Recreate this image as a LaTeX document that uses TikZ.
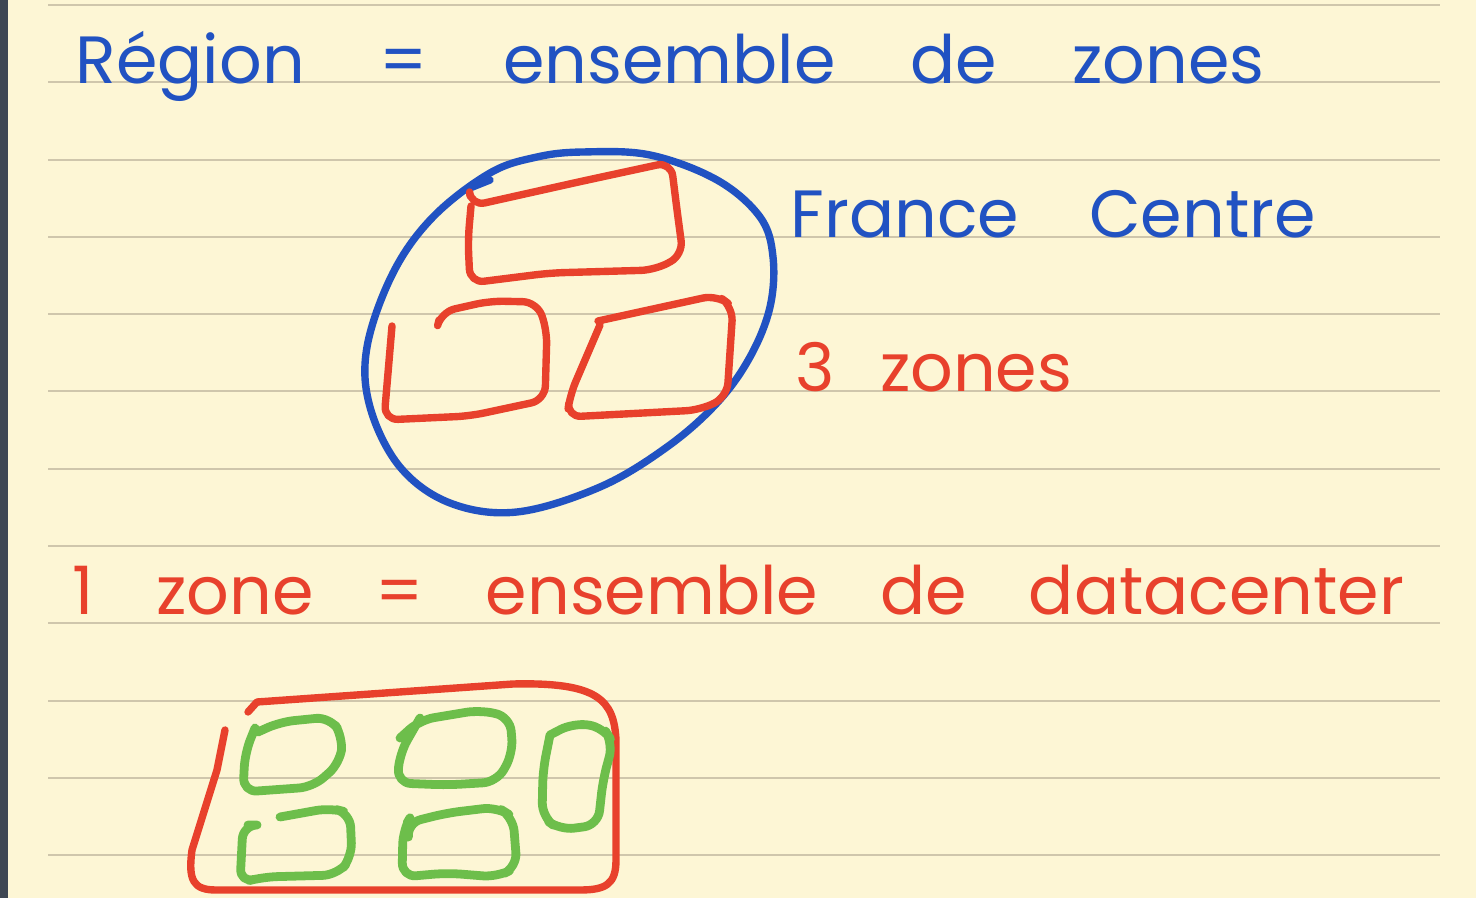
\documentclass[tikz,border=0pt]{standalone}
\usepackage{fontspec}
\newfontfamily\hand{Poppins}
\newcommand\wordgap[1]{\spaceskip=#1\relax}
\definecolor{paper}{HTML}{FDF6D5}
\definecolor{ruling}{HTML}{CFC6AC}
\definecolor{spine}{HTML}{3E4753}
\definecolor{blueink}{HTML}{2152C2}
\definecolor{redink}{HTML}{E8412C}
\definecolor{greenink}{HTML}{6DBE4B}
\begin{document}
\begin{tikzpicture}[x=0.01cm,y=-0.01cm,
  ink/.style={line width=2.1pt, line cap=round, line join=round, rounded corners=4pt},
  greenstroke/.style={ink, greenink, line width=2.5pt},
  txt/.style={font={\hand\fontsize{19}{23}\selectfont}, anchor=base west, inner sep=0pt}]
\fill[paper] (0,0) rectangle (1476,898);
\useasboundingbox (0,0) rectangle (1476,898);
\fill[spine] (0,0) rectangle (8,898);
\foreach \y in {5,82,160,237,314,391,469,546,623,701,778,855}
  \draw[ruling, line width=0.6pt] (48,\y) -- (1440,\y);

% texts
\node[txt, text=blueink] (title) at (75,84) {\wordgap{0.75cm}Région = ensemble de zones};
\node[txt, text=blueink] (region) at (790,238) {\wordgap{0.7cm}France Centre};
\node[txt, text=redink] (count) at (795,392) {\wordgap{0.45cm}3 zones};
\node[txt, text=redink] (zonedef) at (72,615) {\wordgap{0.62cm}1 zone = ensemble de datacenter};

% region ellipse
\draw[ink, blueink, rounded corners=0pt] plot[smooth cycle, tension=0.6] coordinates {
  (583,152) (650,155) (717,180) (760,217) (773,257) (770,307) (750,357)
  (717,403) (667,447) (600,487) (517,512) (450,503) (400,467) (370,407)
  (367,347) (393,273) (433,217) (490,173) (537,157)};
\draw[ink, blueink] (470,188) -- (490,180);

% three zones
\draw[ink, redink] (470,196) -- (471,206) -- (583,181) -- (671,162) -- (677,210) -- (683,255)
  -- (655,270) -- (550,273) -- (470,283) -- (468,240) -- (471,206);
\draw[ink, redink] (392,326) -- (384,420) -- (470,416) -- (545,400) -- (547,330)
  -- (537,302) -- (490,301) -- (441,312) -- (439,320);
\draw[ink, redink] (598,321) -- (717,295) -- (733,307) -- (727,397) -- (700,410)
  -- (567,417) -- (570,395) -- (600,325);

% one zone with datacenters
\draw[ink, redink, rounded corners=0pt] (248,712) -- (257,702) -- (513,684)
  .. controls (598,682) and (614,700) .. (616,740) -- (616,860)
  .. controls (616,884) and (606,890) .. (580,890) -- (216,890)
  .. controls (193,890) and (188,880) .. (192,850) -- (217,770) -- (225,730);

\draw[greenstroke] (258,732) -- (280,722) -- (330,717) -- (343,737) -- (340,763)
  -- (313,787) -- (243,792) -- (245,753) -- (255,728);
\draw[greenstroke] (400,738) -- (420,720) -- (480,710) -- (510,717) -- (513,753)
  -- (497,782) -- (447,785) -- (397,783) -- (400,753) -- (420,718);
\draw[greenstroke] (550,735) -- (573,723) -- (603,727) -- (613,743) -- (603,780)
  -- (598,825) -- (560,830) -- (542,817) -- (543,770) -- (550,735);
\draw[greenstroke] (248,825) -- (243,825) -- (240,883) -- (263,877) -- (337,875)
  -- (352,857) -- (350,813) -- (330,808) -- (280,817);
\draw[greenstroke] (408,833) -- (407,823) -- (447,813) -- (497,807) -- (513,817)
  -- (517,867) -- (497,877) -- (447,873) -- (402,877) -- (403,830) -- (407,823);
\end{tikzpicture}
\end{document}
